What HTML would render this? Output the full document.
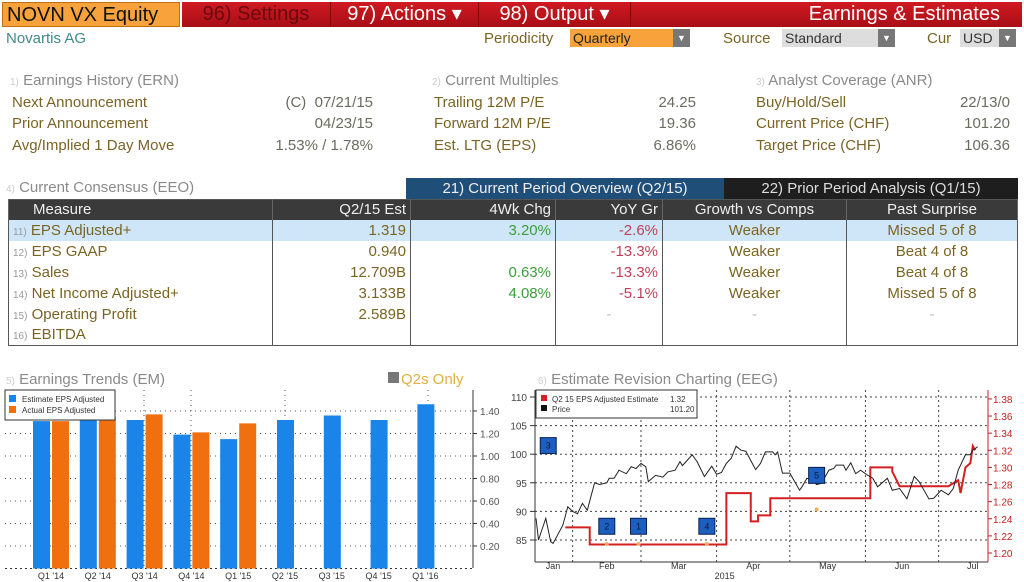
<!DOCTYPE html>
<html><head><meta charset="utf-8">
<style>
*{margin:0;padding:0;box-sizing:border-box}
body{width:1024px;height:582px;background:#fff;font-family:"Liberation Sans",sans-serif;position:relative;overflow:hidden;color:#6e5c2a}
.a{position:absolute;white-space:nowrap}
.hdr{font-size:15px;color:#8a8a8a}
.lbl{font-size:15px;color:#7a6424}
.val{font-size:15px;color:#6b6b60;text-align:right}
.redbar{position:absolute;top:2px;height:25px;background:linear-gradient(#d01a22,#a80e16);color:#fff;font-size:20px;line-height:25px;text-align:center}
.sel{position:absolute;top:29px;height:18px;font-size:14px;line-height:18px;padding-left:3px}
.arr{position:absolute;top:0;right:0;width:17px;height:18px;background:#777;color:#fff;font-size:9px;text-align:center}
table{position:absolute;left:8px;top:199px;width:1010px;border-collapse:collapse;font-size:15px}
td,th{height:21px;padding:0 4px;white-space:nowrap;border-left:1px solid #555;border-right:1px solid #555}
th{background:#3a3a3a;color:#eee;font-weight:normal;height:20px;border-color:#666}
td{color:#7a6424}
.r{text-align:right}.c{text-align:center}
.g{color:#3aa03a}.n{color:#c0405a}
.hl td{background:#cfe6f8}
</style></head><body>
<div class="a" style="left:2px;top:2px;width:178px;height:25px;background:#f7a23b;color:#111;font-size:20px;line-height:25px;padding-left:4px;border:1px solid #c07010">NOVN VX Equity</div>
<div class="redbar" style="left:182px;width:148px;color:#6a0a0e">96) Settings</div>
<div class="redbar" style="left:330px;width:148px;border-left:1px solid #800">97) Actions ▾</div>
<div class="redbar" style="left:478px;width:152px;border-left:1px solid #800">98) Output ▾</div>
<div class="redbar" style="left:630px;width:392px;text-align:right;padding-right:22px;border-left:1px solid #800">Earnings &amp; Estimates</div>

<div class="a" style="left:6px;top:30px;font-size:15px;color:#3f8a8a">Novartis AG</div>
<div class="a lbl" style="left:484px;top:30px">Periodicity</div>
<div class="sel" style="left:570px;width:120px;background:#f7a23b;color:#222">Quarterly<div class="arr">▼</div></div>
<div class="a lbl" style="left:723px;top:30px">Source</div>
<div class="sel" style="left:782px;width:113px;background:#ddd;color:#333">Standard<div class="arr">▼</div></div>
<div class="a lbl" style="left:927px;top:30px">Cur</div>
<div class="sel" style="left:960px;width:56px;background:#ddd;color:#333">USD<div class="arr">▼</div></div>

<div class="a hdr" style="left:10px;top:72px"><span style="font-size:10px;color:#ccc">1)</span> Earnings History (ERN)</div>
<div class="a lbl" style="left:12px;top:94px">Next Announcement</div>
<div class="a val" style="right:651px;top:94px">(C)&nbsp; 07/21/15</div>
<div class="a lbl" style="left:12px;top:115px">Prior Announcement</div>
<div class="a val" style="right:651px;top:115px">04/23/15</div>
<div class="a lbl" style="left:12px;top:137px">Avg/Implied 1 Day Move</div>
<div class="a val" style="right:651px;top:137px">1.53% / 1.78%</div>

<div class="a hdr" style="left:432px;top:72px"><span style="font-size:10px;color:#ccc">2)</span> Current Multiples</div>
<div class="a lbl" style="left:434px;top:94px">Trailing 12M P/E</div>
<div class="a val" style="right:328px;top:94px">24.25</div>
<div class="a lbl" style="left:434px;top:115px">Forward 12M P/E</div>
<div class="a val" style="right:328px;top:115px">19.36</div>
<div class="a lbl" style="left:434px;top:137px">Est. LTG (EPS)</div>
<div class="a val" style="right:328px;top:137px">6.86%</div>

<div class="a hdr" style="left:756px;top:72px"><span style="font-size:10px;color:#ccc">3)</span> Analyst Coverage (ANR)</div>
<div class="a lbl" style="left:756px;top:94px">Buy/Hold/Sell</div>
<div class="a val" style="right:14px;top:94px">22/13/0</div>
<div class="a lbl" style="left:756px;top:115px">Current Price (CHF)</div>
<div class="a val" style="right:14px;top:115px">101.20</div>
<div class="a lbl" style="left:756px;top:137px">Target Price (CHF)</div>
<div class="a val" style="right:14px;top:137px">106.36</div>

<div class="a hdr" style="left:6px;top:179px"><span style="font-size:10px;color:#ccc">4)</span> Current Consensus (EEO)</div>
<div class="a" style="left:406px;top:178px;width:318px;height:21px;background:#1f4e79;color:#eee;font-size:15px;text-align:center;line-height:21px">21) Current Period Overview (Q2/15)</div>
<div class="a" style="left:724px;top:178px;width:294px;height:21px;background:#1e1e1e;color:#ddd;font-size:15px;text-align:center;line-height:21px">22) Prior Period Analysis (Q1/15)</div>

<table style="border:1px solid #555">
<tr><th style="text-align:left;width:264px;padding-left:24px">Measure</th><th class="r" style="width:138px">Q2/15 Est</th><th class="r" style="width:145px">4Wk Chg</th><th class="r" style="width:107px">YoY Gr</th><th class="c" style="width:184px">Growth vs Comps</th><th class="c">Past Surprise</th></tr>
<tr class="hl"><td><span style="font-size:10px;color:#999">11)</span> EPS Adjusted+</td><td class="r">1.319</td><td class="r g">3.20%</td><td class="r n">-2.6%</td><td class="c">Weaker</td><td class="c">Missed 5 of 8</td></tr>
<tr><td><span style="font-size:10px;color:#999">12)</span> EPS GAAP</td><td class="r">0.940</td><td></td><td class="r n">-13.3%</td><td class="c">Weaker</td><td class="c">Beat 4 of 8</td></tr>
<tr><td><span style="font-size:10px;color:#999">13)</span> Sales</td><td class="r">12.709B</td><td class="r g">0.63%</td><td class="r n">-13.3%</td><td class="c">Weaker</td><td class="c">Beat 4 of 8</td></tr>
<tr><td><span style="font-size:10px;color:#999">14)</span> Net Income Adjusted+</td><td class="r">3.133B</td><td class="r g">4.08%</td><td class="r n">-5.1%</td><td class="c">Weaker</td><td class="c">Missed 5 of 8</td></tr>
<tr><td><span style="font-size:10px;color:#999">15)</span> Operating Profit</td><td class="r">2.589B</td><td></td><td class="c" style="color:#bbb">-</td><td class="c" style="color:#bbb">-</td><td class="c" style="color:#bbb">-</td></tr>
<tr><td><span style="font-size:10px;color:#999">16)</span> EBITDA</td><td></td><td></td><td></td><td></td><td></td></tr>
</table>

<svg id="ch" width="1024" height="582" style="position:absolute;left:0;top:0" font-family="Liberation Sans, sans-serif">
<text x="6" y="384" font-size="15" fill="#8a8a8a"><tspan font-size="10" fill="#ccc">5)</tspan> Earnings Trends (EM)</text>
<rect x="388" y="372" width="11" height="11" fill="#777"/>
<text x="401" y="384" font-size="15" fill="#e0b040">Q2s Only</text>
<text x="538" y="384" font-size="15" fill="#8a8a8a"><tspan font-size="10" fill="#ccc">6)</tspan> Estimate Revision Charting (EEG)</text>
<g id="left"></g><g id="right"></g>
</svg>
<script>
// ---- Earnings trends data
const quarters=["Q1 '14","Q2 '14","Q3 '14","Q4 '14","Q1 '15","Q2 '15","Q3 '15","Q4 '15","Q1 '16"];
const estimateEps=[1.31,1.33,1.32,1.19,1.15,1.32,1.36,1.32,1.46];
const actualEps=[1.31,1.35,1.37,1.21,1.29,null,null,null,null];
const epsTicks=[0.20,0.40,0.60,0.80,1.00,1.20,1.40];
// ---- Revision chart data (day of year 2015)
const priceDays=[17,18,21,23,24,28,30,32,34,36,38,41,43,46,47,49,51,54,56,58,60,62,63,66,69,71,74,76,77,81,83,86,89,91,93,95,97,99,101,103,107,109,111,114,115,116,118,121,125,126,128,130,132,134,137,139,140,143,144,146,148,150,153,155,157,161,163,166,169,172,174,178,180,183,186,188,190,193,195,196,198];
const priceVals=[88.8,85,88.8,84.7,84.4,87.6,90.8,90,89.6,91.4,90.2,95,94.7,95,95.8,95.8,97.2,96.6,97.8,97.5,98.4,97.8,95.2,96.3,96,96.9,97.2,98.7,98,99.9,98.7,96.1,97.9,96.5,96.8,98.4,99.3,101.4,100.7,100.5,97.3,98.4,100.4,100.4,99.9,100.4,96.7,96.7,93.7,94.3,95.8,95.5,94.7,94.9,97.2,97.5,98.1,98.1,97.2,98.5,96.6,97.2,96.3,95.8,94.3,95.8,93.7,94,92.2,96.1,95.2,92.2,92.3,93.7,92.9,94,97.2,99.9,99.9,100.7,101.3];
const estDays=[29,39,39,95,95,105,105,108,108,113,113,154,154,163,163,166,166,186,190,191,193,195,196,197];
const estVals=[1.23,1.23,1.21,1.21,1.27,1.27,1.237,1.237,1.244,1.244,1.264,1.264,1.30,1.30,1.295,1.278,1.278,1.278,1.285,1.27,1.30,1.305,1.325,1.32];
const eventLabels=["3","2","1","4","5"];
const eventDays=[22,46,59,87,132];
const eventPrices=[101.5,87.4,87.4,87.4,96.3];
const priceTicks=[85,90,95,100,105,110];
const estTicks=[1.20,1.22,1.24,1.26,1.28,1.30,1.32,1.34,1.36,1.38];
const months=["Jan","Feb","Mar","Apr","May","Jun","Jul"];
const monthStarts=[1,32,60,91,121,152,182];

const NS="http://www.w3.org/2000/svg";
function mk(p,t,a){const e=document.createElementNS(NS,t);for(const k in a)e.setAttribute(k,a[k]);p.appendChild(e);return e;}
// Left chart
const L=document.getElementById('left');
const yL=v=>568.5-v*112.5;
const xC=i=>51+i*46.8;
for(const t of epsTicks){
 const gl=mk(L,'line',{x1:5,x2:473,y1:yL(t),y2:yL(t),stroke:'#555','stroke-dasharray':'1,4'});
 
 const tx=mk(L,'text',{x:480,y:yL(t)+4,'font-size':10,fill:'#555'});tx.textContent=t.toFixed(2);
 
 mk(L,'line',{x1:473,x2:477,y1:yL(t),y2:yL(t),stroke:'#333'});
}
[144,191,285,428].forEach(x=>mk(L,'line',{x1:x,x2:x,y1:390,y2:568,stroke:'#555','stroke-dasharray':'1,4'}));
mk(L,'line',{x1:473,x2:473,y1:390,y2:568,stroke:'#333'});
mk(L,'line',{x1:5,x2:473,y1:568.5,y2:568.5,stroke:'#333','stroke-dasharray':'2,3'});
quarters.forEach((q,i)=>{
 const hasA=actualEps[i]!=null;
 const bx=hasA?xC(i)-18:xC(i)-8;
 const b=mk(L,'rect',{x:bx,y:yL(estimateEps[i]),width:17,height:568.5-yL(estimateEps[i]),fill:'#1a84e8'});
 
 if(hasA){const a=mk(L,'rect',{x:xC(i)+1,y:yL(actualEps[i]),width:17,height:568.5-yL(actualEps[i]),fill:'#f07010'});
 }
 const t=mk(L,'text',{x:xC(i)-(hasA?0:8)+ (hasA?0:8),y:579,'font-size':9,fill:'#333','text-anchor':'middle'});t.textContent=q;
 
});
const lg=mk(L,'g',{});
mk(lg,'rect',{x:5,y:390,width:110,height:30,fill:'#fff',stroke:'#333'});
mk(lg,'rect',{x:9,y:395,width:7,height:7,fill:'#1a84e8'});
mk(lg,'rect',{x:9,y:406,width:7,height:7,fill:'#f07010'});
mk(lg,'text',{x:22,y:402,'font-size':8,fill:'#333'}).textContent='Estimate EPS Adjusted';
mk(lg,'text',{x:22,y:413,'font-size':8,fill:'#333'}).textContent='Actual EPS Adjusted';
// Right chart
const R=document.getElementById('right');
const xD=d=>497+2.44*(d-1);
const yP=p=>397+(110-p)*5.72;
const yE=v=>553-(v-1.20)*856;
for(const t of priceTicks){
 const gl=mk(R,'line',{x1:535,x2:988,y1:yP(t),y2:yP(t),stroke:'#444','stroke-dasharray':'2,3'});
 
 const tx=mk(R,'text',{x:527,y:yP(t)+4,'font-size':10,fill:'#444','text-anchor':'end'});tx.textContent=t;
 
 mk(R,'line',{x1:530,x2:535,y1:yP(t),y2:yP(t),stroke:'#333'});
}
for(const t of estTicks){
 const tx=mk(R,'text',{x:993,y:yE(t)+4,'font-size':10,fill:'#c02020'});tx.textContent=t.toFixed(2);
 
 mk(R,'line',{x1:988,x2:992,y1:yE(t),y2:yE(t),stroke:'#c02020'});
}
mk(R,'line',{x1:535,x2:535,y1:390,y2:562,stroke:'#333'});
mk(R,'line',{x1:988,x2:988,y1:390,y2:562,stroke:'#c02020'});
mk(R,'line',{x1:535,x2:988,y1:562,y2:562,stroke:'#333'});
months.forEach((m,i)=>{
 if(i>0){const g=mk(R,'line',{x1:xD(monthStarts[i]),x2:xD(monthStarts[i]),y1:390,y2:562,stroke:'#444','stroke-dasharray':'2,3'});
 }
 const mid=i<6?(monthStarts[i]+monthStarts[i+1])/2:monthStarts[i]+14;
 const t=mk(R,'text',{x:Math.max(553,xD(mid)),y:569,'font-size':9,fill:'#333','text-anchor':'middle'});t.textContent=m;
 
});
mk(R,'text',{x:xD(91)+8,y:579,'font-size':9,fill:'#333','text-anchor':'middle'}).textContent='2015';
const est=mk(R,'polyline',{points:estDays.map((d,i)=>xD(d)+','+yE(estVals[i])).join(' '),fill:'none',stroke:'#d42020','stroke-width':2});

const pr=mk(R,'polyline',{points:priceDays.map((d,i)=>xD(d)+','+yP(priceVals[i])).join(' '),fill:'none',stroke:'#222','stroke-width':1});

eventLabels.forEach((l,i)=>{
 const cx=xD(eventDays[i]),cy=yP(eventPrices[i]);
 const g=mk(R,'g',{});
 mk(g,'rect',{x:cx-8,y:cy-8,width:16,height:16,fill:'#1c5fc0',stroke:'#0a2050'});
 mk(g,'text',{x:cx,y:cy+3,'font-size':9,fill:'#0a1a40','text-anchor':'middle'}).textContent=l;
 if(i>0) mk(g,'circle',{cx:cx,cy:i==4?cy+34:544,r:2,fill:'#f0b060'});
});
const rl=mk(R,'g',{});
mk(rl,'rect',{x:536,y:390,width:161,height:28,fill:'#fff',stroke:'#333'});
mk(rl,'rect',{x:541,y:395,width:6,height:6,fill:'#d42020'});
mk(rl,'rect',{x:541,y:405,width:6,height:6,fill:'#111'});
mk(rl,'text',{x:552,y:402,'font-size':8,fill:'#333'}).textContent='Q2 15 EPS Adjusted Estimate';
mk(rl,'text',{x:670,y:402,'font-size':8,fill:'#333'}).textContent='1.32';
mk(rl,'text',{x:552,y:412,'font-size':8,fill:'#333'}).textContent='Price';
mk(rl,'text',{x:670,y:412,'font-size':8,fill:'#333'}).textContent='101.20';
</script>
</body></html>
